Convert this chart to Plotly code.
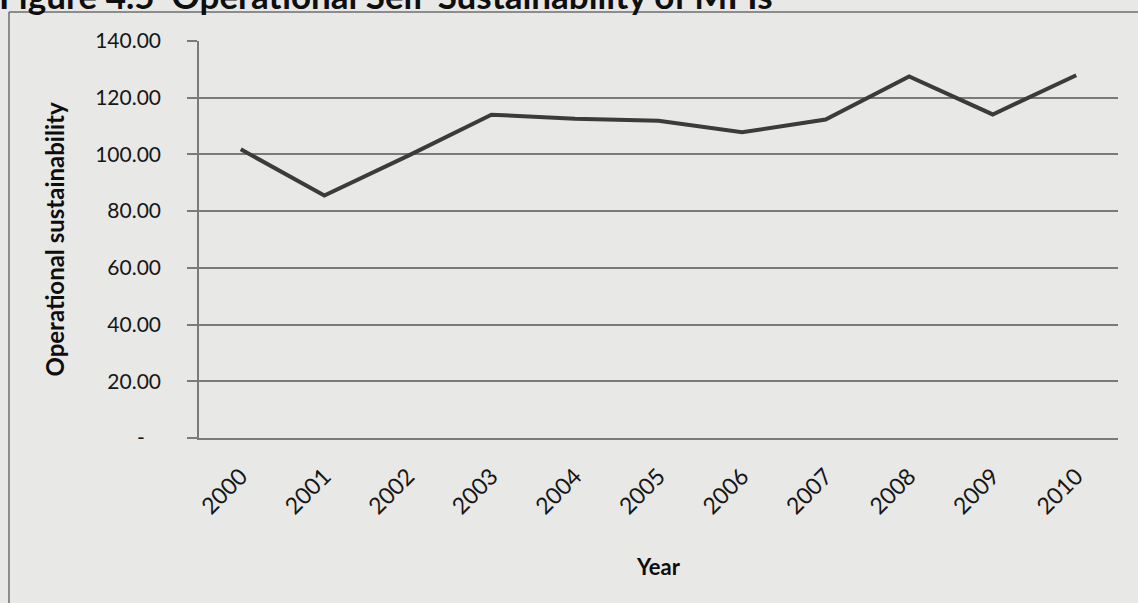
import plotly.graph_objects as go

# Operational self-sustainability of MFIs, 2000-2010
years = ["2000", "2001", "2002", "2003", "2004", "2005",
         "2006", "2007", "2008", "2009", "2010"]
sustainability = [101.8, 85.5, 99.5, 114.0, 112.6, 111.9,
                  107.8, 112.3, 127.5, 114.1, 127.9]

y_tick_values = [0, 20, 40, 60, 80, 100, 120, 140]
y_tick_labels = ["-\u00a0\u00a0\u00a0", "20.00", "40.00", "60.00",
                 "80.00", "100.00", "120.00", "140.00"]

BG = "#e8e8e7"
GRID = "#7a7a7a"
INK = "#161616"
FONT = "Lato"

W, H = 1138, 603
L, R, T, B = 199, 20, 41, 165
PW, PH = W - L - R, H - T - B


def px_x(x):
    return (x - L) / PW


def px_y(y):
    return (H - B - y) / PH


fig = go.Figure()
fig.add_trace(go.Scatter(
    x=years, y=sustainability, mode="lines",
    line=dict(color="#3b3b3b", width=4),
    hoverinfo="x+y", showlegend=False,
))

# figure frame (left and top rule of the boxed figure)
frame = dict(color="#6e6e6e", width=1.5)
fig.add_shape(type="line", xref="paper", yref="paper",
              x0=px_x(9), x1=px_x(9), y0=px_y(12), y1=px_y(H + 5), line=frame)
fig.add_shape(type="line", xref="paper", yref="paper",
              x0=px_x(9), x1=px_x(W + 5), y0=px_y(12), y1=px_y(12), line=frame)

# figure caption above the frame
fig.add_annotation(
    text="Figure 4.5  Operational Self-Sustainability of MFIs",
    xref="paper", yref="paper", x=px_x(-3), y=px_y(18),
    xanchor="left", yanchor="bottom", showarrow=False,
    font=dict(family=FONT, size=35, color="#0e0e0e", weight="bold"),
)

fig.update_layout(
    width=W, height=H,
    margin=dict(l=L, r=R, t=T, b=B, pad=0),
    paper_bgcolor=BG, plot_bgcolor=BG,
    font=dict(family=FONT, color=INK),
    xaxis=dict(
        type="category", categoryorder="array", categoryarray=years,
        range=[-0.5, 10.5],
        showgrid=False, zeroline=False,
        showline=True, linecolor=GRID, linewidth=1.5,
        ticks="", tickangle=-45, ticklabelstandoff=14,
        tickfont=dict(size=23, color=INK),
        title=dict(text="<b>Year</b>", font=dict(size=22, color="#0e0e0e"),
                   standoff=41),
    ),
    yaxis=dict(
        range=[0, 140], tickmode="array",
        tickvals=y_tick_values, ticktext=y_tick_labels,
        showgrid=True, gridcolor=GRID, gridwidth=1.5,
        zeroline=False,
        showline=True, linecolor=GRID, linewidth=1.5,
        ticks="outside", ticklen=10, tickcolor=GRID, tickwidth=1.5,
        ticklabelstandoff=22,
        tickfont=dict(size=21, color=INK),
        title=dict(text="<b>Operational sustainability</b>",
                   font=dict(size=24, color="#0e0e0e"), standoff=24),
    ),
)

fig.write_html("out.html")
